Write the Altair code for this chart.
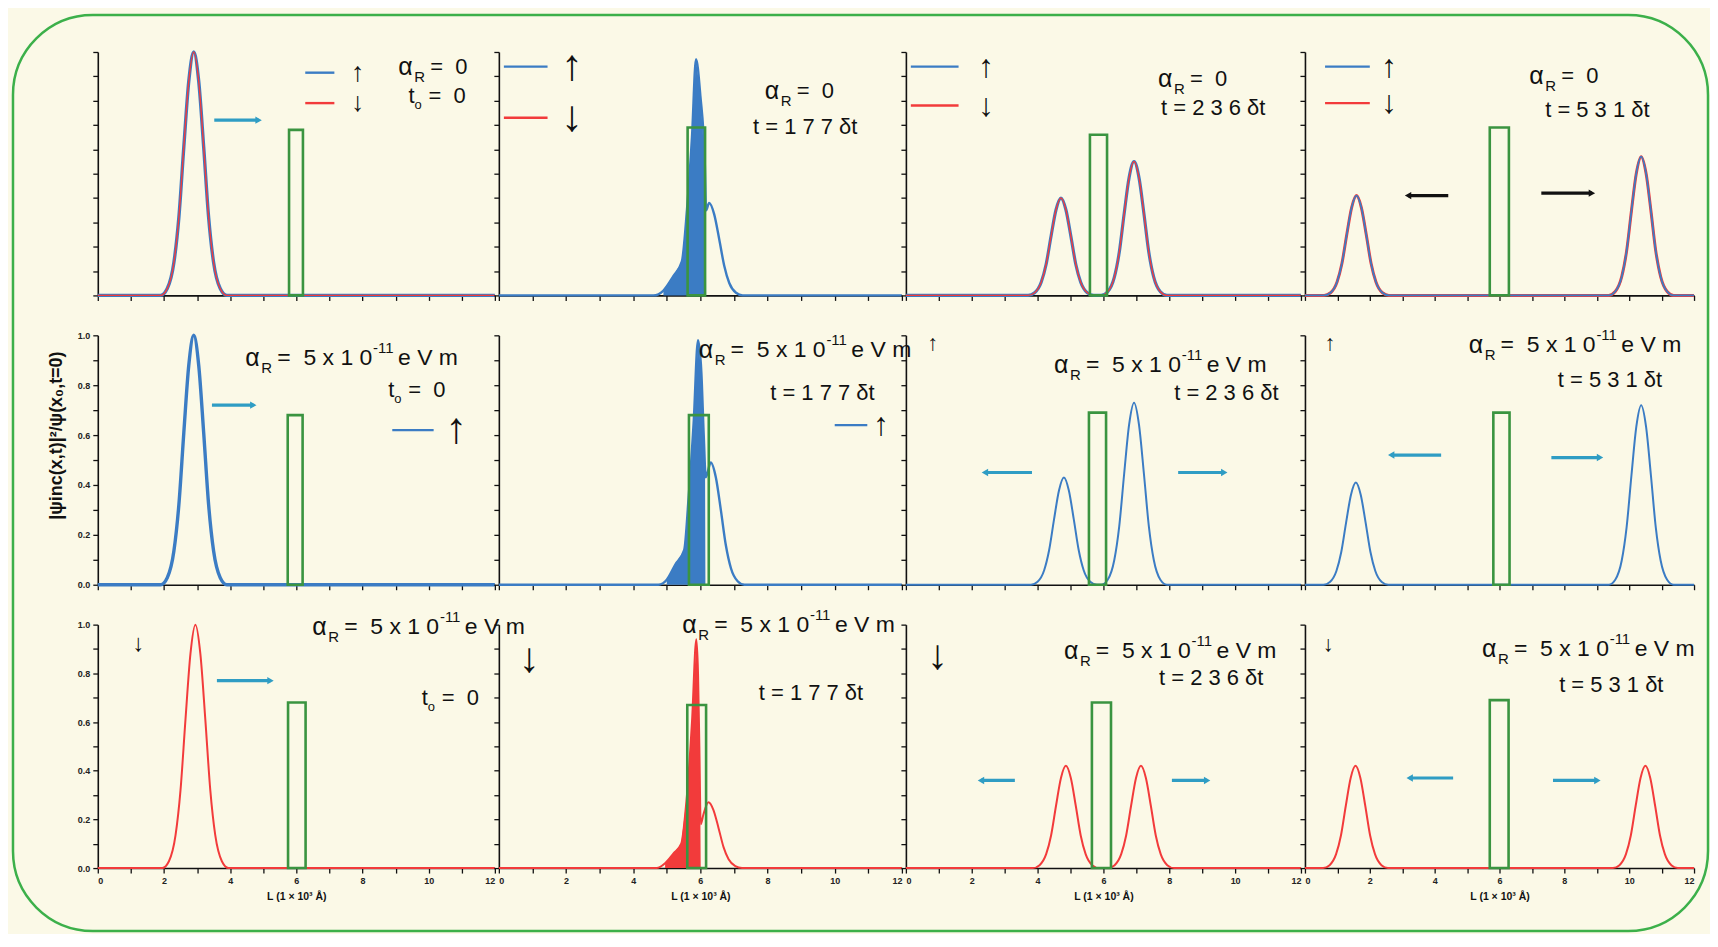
import altair as alt
import pandas as pd

FONT = "Liberation Sans"
NB = "\u00a0"

# ======================= DATA =======================
PANEL_IDS = ["A1", "A2", "A3", "A4", "B1", "B2", "B3", "B4", "C1", "C2", "C3", "C4"]
X_TICKS = list(range(0, 13))
Y_TICKS = [0.0, 0.1, 0.2, 0.3, 0.4, 0.5, 0.6, 0.7, 0.8, 0.9, 1.0]

# probability density curves (x in 10^3 Å, y normalised)
A1_X = [0, 1.9, 2.1, 2.3, 2.45, 2.6, 2.75, 2.9, 3.05, 3.2, 3.35, 3.5, 3.7, 3.9, 12]
A1_Y = [0, 0, 0.028, 0.135, 0.32, 0.61, 0.88, 1.0, 0.88, 0.61, 0.32, 0.135, 0.028, 0, 0]

A2_X = [0, 4.6, 4.9, 5.2, 5.45, 5.6, 5.75, 5.87, 6.0, 6.13, 6.17, 6.26, 6.41, 6.56, 6.71, 6.86, 7.06, 7.26, 12]
A2_Y = [0, 0, 0.02, 0.08, 0.14, 0.35, 0.65, 0.97, 0.82, 0.55, 0.35, 0.38, 0.334, 0.232, 0.122, 0.051, 0.011, 0, 0]
A2_FILL_X = [4.9, 5.2, 5.45, 5.6, 5.75, 5.87, 6.0, 6.13, 6.16, 6.17]
A2_FILL_Y = [0.02, 0.08, 0.14, 0.35, 0.65, 0.97, 0.82, 0.55, 0.36, 0]

A3_X = [0, 3.71, 3.91, 4.11, 4.26, 4.41, 4.56, 4.71, 4.86, 5.01, 5.16, 5.31, 5.51, 5.71,
        5.93, 6.13, 6.33, 6.48, 6.63, 6.78, 6.93, 7.08, 7.23, 7.38, 7.53, 7.73, 7.93, 12]
A3_Y = [0, 0, 0.011, 0.054, 0.128, 0.244, 0.352, 0.40, 0.352, 0.244, 0.128, 0.054, 0.011, 0,
        0, 0.015, 0.074, 0.176, 0.336, 0.484, 0.55, 0.484, 0.336, 0.176, 0.074, 0.015, 0, 0]

A4_X = [0, 0.59, 0.79, 0.99, 1.14, 1.29, 1.44, 1.59, 1.74, 1.89, 2.04, 2.19, 2.39, 2.59,
        9.37, 9.57, 9.77, 9.92, 10.07, 10.22, 10.37, 10.52, 10.67, 10.82, 10.97, 11.17, 11.37, 12]
A4_Y = [0, 0, 0.011, 0.055, 0.131, 0.25, 0.361, 0.41, 0.361, 0.25, 0.131, 0.055, 0.011, 0,
        0, 0.016, 0.077, 0.182, 0.348, 0.502, 0.57, 0.502, 0.348, 0.182, 0.077, 0.016, 0, 0]

B1_X = [0, 1.9, 2.1, 2.3, 2.45, 2.6, 2.75, 2.9, 3.05, 3.2, 3.35, 3.5, 3.7, 3.9, 12]
B1_Y = [0, 0, 0.028, 0.135, 0.32, 0.61, 0.88, 1.0, 0.88, 0.61, 0.32, 0.135, 0.028, 0, 0]

B2_X = [0, 4.75, 5.0, 5.25, 5.52, 5.65, 5.8, 5.93, 6.03, 6.1, 6.16, 6.31, 6.46, 6.61, 6.76, 6.91, 7.11, 7.31, 12]
B2_Y = [0, 0, 0.02, 0.08, 0.14, 0.35, 0.65, 0.98, 0.85, 0.6, 0.431, 0.49, 0.431, 0.299, 0.157, 0.066, 0.014, 0, 0]
B2_FILL_X = [5.0, 5.25, 5.52, 5.65, 5.8, 5.93, 6.03, 6.1, 6.14, 6.15]
B2_FILL_Y = [0.02, 0.08, 0.14, 0.35, 0.65, 0.98, 0.85, 0.6, 0.43, 0]

B3_X = [0, 3.8, 4.0, 4.2, 4.35, 4.5, 4.65, 4.8, 4.95, 5.1, 5.25, 5.4, 5.6, 5.8,
        5.93, 6.13, 6.33, 6.48, 6.63, 6.78, 6.93, 7.08, 7.23, 7.38, 7.53, 7.73, 7.93, 12]
B3_Y = [0, 0, 0.012, 0.058, 0.138, 0.262, 0.378, 0.43, 0.378, 0.262, 0.138, 0.058, 0.012, 0,
        0, 0.02, 0.099, 0.234, 0.445, 0.642, 0.73, 0.642, 0.445, 0.234, 0.099, 0.02, 0, 0]

B4_X = [0, 0.57, 0.77, 0.97, 1.12, 1.27, 1.42, 1.57, 1.72, 1.87, 2.02, 2.17, 2.37, 2.57,
        9.37, 9.57, 9.77, 9.92, 10.07, 10.22, 10.37, 10.52, 10.67, 10.82, 10.97, 11.17, 11.37, 12]
B4_Y = [0, 0, 0.011, 0.055, 0.131, 0.25, 0.361, 0.41, 0.361, 0.25, 0.131, 0.055, 0.011, 0,
        0, 0.02, 0.097, 0.23, 0.439, 0.634, 0.72, 0.634, 0.439, 0.23, 0.097, 0.02, 0, 0]

C1_X = [0, 1.95, 2.15, 2.35, 2.5, 2.65, 2.8, 2.95, 3.1, 3.25, 3.4, 3.55, 3.75, 3.95, 12]
C1_Y = [0, 0, 0.028, 0.135, 0.32, 0.61, 0.88, 1.0, 0.88, 0.61, 0.32, 0.135, 0.028, 0, 0]

C2_X = [0, 4.7, 4.95, 5.2, 5.43, 5.6, 5.75, 5.88, 5.93, 5.97, 6.01, 6.09, 6.24, 6.39, 6.54, 6.69, 6.84, 7.04, 7.24, 12]
C2_Y = [0, 0, 0.02, 0.06, 0.1, 0.3, 0.6, 0.94, 0.8, 0.5, 0.18, 0.22, 0.27, 0.238, 0.165, 0.086, 0.036, 0.008, 0, 0]
C2_FILL_X = [4.95, 5.2, 5.43, 5.6, 5.75, 5.88, 5.93, 5.97, 6.0, 6.01]
C2_FILL_Y = [0.02, 0.06, 0.1, 0.3, 0.6, 0.94, 0.8, 0.5, 0.2, 0]

C3_X = [0, 3.86, 4.06, 4.26, 4.41, 4.56, 4.71, 4.86, 5.01, 5.16, 5.31, 5.46, 5.66, 5.86,
        6.14, 6.34, 6.54, 6.69, 6.84, 6.99, 7.14, 7.29, 7.44, 7.59, 7.74, 7.94, 8.14, 12]
C3_Y = [0, 0, 0.012, 0.057, 0.134, 0.256, 0.37, 0.42, 0.37, 0.256, 0.134, 0.057, 0.012, 0,
        0, 0.012, 0.057, 0.134, 0.256, 0.37, 0.42, 0.37, 0.256, 0.134, 0.057, 0.012, 0, 0]

C4_X = [0, 0.56, 0.76, 0.96, 1.11, 1.26, 1.41, 1.56, 1.71, 1.86, 2.01, 2.16, 2.36, 2.56,
        9.5, 9.7, 9.9, 10.05, 10.2, 10.35, 10.5, 10.65, 10.8, 10.95, 11.1, 11.3, 11.5, 12]
C4_Y = [0, 0, 0.012, 0.057, 0.134, 0.256, 0.37, 0.42, 0.37, 0.256, 0.134, 0.057, 0.012, 0,
        0, 0.012, 0.057, 0.134, 0.256, 0.37, 0.42, 0.37, 0.256, 0.134, 0.057, 0.012, 0, 0]

# barrier (green box) per panel
BARRIER_X1 = [5.78, 5.62, 5.59, 5.70, 5.74, 5.66, 5.56, 5.81, 5.75, 5.61, 5.65, 5.70]
BARRIER_X2 = [6.20, 6.14, 6.11, 6.29, 6.19, 6.25, 6.08, 6.31, 6.28, 6.17, 6.23, 6.28]
BARRIER_TOP = [0.68, 0.69, 0.66, 0.69, 0.68, 0.68, 0.69, 0.69, 0.68, 0.67, 0.68, 0.69]

# propagation arrows
ARROW_PANEL = ["A1", "B1", "C1", "A4", "A4", "B3", "B3", "B4", "B4", "C3", "C3", "C4", "C4"]
ARROW_X1 = [3.52, 3.45, 3.60, 4.42, 7.29, 3.83, 8.27, 4.20, 7.60, 3.31, 8.08, 4.57, 7.65]
ARROW_X2 = [4.86, 4.70, 5.22, 3.18, 8.85, 2.40, 9.67, 2.66, 9.10, 2.28, 9.15, 3.23, 9.02]
ARROW_Y = [0.72, 0.72, 0.77, 0.41, 0.42, 0.45, 0.45, 0.52, 0.51, 0.36, 0.36, 0.37, 0.36]
ARROW_KIND = ["cyan", "cyan", "cyan", "black", "black", "cyan", "cyan", "cyan", "cyan",
              "cyan", "cyan", "cyan", "cyan"]

# legend line samples
LEG_PANEL = ["A1", "A1", "A2", "A2", "A3", "A3", "A4", "A4", "B1", "B2"]
LEG_SPIN = ["up", "down", "up", "down", "up", "down", "up", "down", "up", "up"]
LEG_X1 = [6.27, 6.27, 0.15, 0.15, 0.15, 0.15, 0.62, 0.62, 8.90, 10.00]
LEG_X2 = [7.15, 7.15, 1.45, 1.45, 1.60, 1.60, 2.00, 2.00, 10.15, 10.97]
LEG_Y = [0.915, 0.79, 0.94, 0.73, 0.94, 0.78, 0.94, 0.79, 0.62, 0.64]

# spin arrows (text)
GLYPH_PANEL = ["A1", "A1", "A2", "A2", "A3", "A3", "A4", "A4", "B1", "B2", "B3", "B4", "C1", "C2", "C3", "C4"]
GLYPH_TEXT = ["↑", "↓", "↑", "↓", "↑", "↓", "↑", "↓", "↑", "↑", "↑", "↑", "↓", "↓", "↓", "↓"]
GLYPH_X = [7.65, 7.65, 1.85, 1.85, 2.2, 2.2, 2.35, 2.35, 10.5, 11.15, 0.65, 0.6, 1.05, 0.6, 0.65, 0.55]
GLYPH_Y = [0.915, 0.79, 0.94, 0.73, 0.94, 0.78, 0.94, 0.79, 0.62, 0.64, 0.97, 0.97, 0.92, 0.86, 0.87, 0.92]

# Rashba coupling labels and time labels
ALPHA_X = [9.08, 7.92, 7.66, 6.92, 4.46, 5.95, 4.50, 5.05, 6.48, 5.46, 4.80, 5.46]
ALPHA_Y = [0.94, 0.84, 0.89, 0.90, 0.91, 0.94, 0.88, 0.96, 0.99, 1.00, 0.89, 0.90]
ALPHA_VALUE = ["0", "0", "0", "0", "5e-11", "5e-11", "5e-11", "5e-11", "5e-11", "5e-11", "5e-11", "5e-11"]
TIME_X = [9.39, 7.57, 7.75, 7.41, 8.78, 8.08, 8.15, 7.80, 9.79, 7.74, 7.69, 7.84]
TIME_Y = [0.82, 0.69, 0.77, 0.76, 0.78, 0.77, 0.77, 0.82, 0.70, 0.72, 0.78, 0.75]
TIME_STEPS = [0, 177, 236, 531, 0, 177, 236, 531, 0, 177, 236, 531]

X_TITLE = "L  (1 × 10³ Å)"
Y_TITLE = "|ψinc(x,t)|²/ψ(x₀,t=0)"

# ======================= STYLE =======================
BG = "#fbf9e7"
BORDER = "#3cb04a"
GREEN = "#3a9440"
SPIN_COLOR = {"up": "#3b7cc4", "down": "#f23b3b"}
ARROW_COLOR = {"cyan": "#2f9dc4", "black": "#111111"}
COL_W = [398, 404, 396, 390]
ROW_H = [244, 250, 244]

CURVES = {"A1": (A1_X, A1_Y), "A2": (A2_X, A2_Y), "A3": (A3_X, A3_Y), "A4": (A4_X, A4_Y),
          "B1": (B1_X, B1_Y), "B2": (B2_X, B2_Y), "B3": (B3_X, B3_Y), "B4": (B4_X, B4_Y),
          "C1": (C1_X, C1_Y), "C2": (C2_X, C2_Y), "C3": (C3_X, C3_Y), "C4": (C4_X, C4_Y)}
FILLS = {"A2": (A2_FILL_X, A2_FILL_Y), "B2": (B2_FILL_X, B2_FILL_Y), "C2": (C2_FILL_X, C2_FILL_Y)}
CURVE_LAYERS = {
    "A1": [("up", 3.4), ("down", 1.4)], "A2": [("up", 2.4)],
    "A3": [("up", 3.2), ("down", 1.4)], "A4": [("down", 3.0), ("up", 1.8)],
    "B1": [("up", 3.4)], "B2": [("up", 2.4)], "B3": [("up", 2.0)], "B4": [("up", 2.0)],
    "C1": [("down", 2.0)], "C2": [("down", 2.0)], "C3": [("down", 2.0)], "C4": [("down", 2.0)],
}
GLYPH_FONT_SIZE = {"A1": 27, "A2": 44, "A3": 32, "A4": 32, "B1": 44, "B2": 32, "B3": 22,
                   "B4": 22, "C1": 24, "C2": 42, "C3": 42, "C4": 22}
ALPHA_PIECES = {
    "0": [("α", 0, 0, 25), ("R", 16, 10, 15), ("=" + NB + NB + "0", 32, 0, 22)],
    "5e-11": [("α", 0, 0, 25), ("R", 16, 10, 15), ("=" + NB + NB + "5 x 1 0", 32, 0, 23),
              ("-11", 128, -10, 15), ("e V m", 153, 0, 23)],
}
T0_PIECES = [("t", 0, 0, 22), ("o", 6, 9, 13), ("=" + NB + NB + "0", 20, 0, 22)]

# ======================= TABLES =======================
barrier_df = pd.DataFrame({"panel": PANEL_IDS, "x": BARRIER_X1, "x2": BARRIER_X2,
                           "y": [0.0] * len(PANEL_IDS), "y2": BARRIER_TOP})
arrow_df = pd.DataFrame({"panel": ARROW_PANEL, "x": ARROW_X1, "x2": ARROW_X2, "y": ARROW_Y,
                         "color": [ARROW_COLOR[k] for k in ARROW_KIND]})
head_df = pd.DataFrame({"panel": ARROW_PANEL, "x": ARROW_X2, "y": ARROW_Y,
                        "color": [ARROW_COLOR[k] for k in ARROW_KIND],
                        "shape": ["triangle-right" if b > a else "triangle-left"
                                  for a, b in zip(ARROW_X1, ARROW_X2)]})
leg_df = pd.DataFrame({"panel": LEG_PANEL, "x": LEG_X1, "x2": LEG_X2, "y": LEG_Y,
                       "color": [SPIN_COLOR[s] for s in LEG_SPIN]})
glyph_df = pd.DataFrame({"panel": GLYPH_PANEL, "x": GLYPH_X, "y": GLYPH_Y, "t": GLYPH_TEXT,
                         "fs": [GLYPH_FONT_SIZE[p] for p in GLYPH_PANEL]})
alpha_df = pd.DataFrame({"panel": PANEL_IDS, "x": ALPHA_X, "y": ALPHA_Y, "v": ALPHA_VALUE})
time_df = pd.DataFrame({"panel": PANEL_IDS, "x": TIME_X, "y": TIME_Y, "n": TIME_STEPS})


def make_panel(pid, row, col):
    xs = alt.Scale(domain=[0, 12], nice=False, zero=False)
    ys = alt.Scale(domain=[0, 1], nice=False, zero=False)
    bottom = row == 2
    x_axis = alt.Axis(values=X_TICKS, labels=bottom,
                      labelExpr="datum.value % 2 == 0 ? datum.label : ''",
                      title=X_TITLE if bottom else "", titleFontSize=10.5,
                      titleFontWeight="bold", titlePadding=7, labelPadding=3)
    y_axis = alt.Axis(values=Y_TICKS, labels=(col == 0 and row > 0),
                      labelExpr="round(datum.value*10) % 2 == 0 ? format(datum.value, '.1f') : ''",
                      title=Y_TITLE if pid == "B1" else "", titleFontSize=18,
                      titleFontWeight="bold", titlePadding=12, titleY=100, labelPadding=3)

    def XY(ch):
        return ch.encode(x=alt.X("x:Q", scale=xs, axis=x_axis),
                         y=alt.Y("y:Q", scale=ys, axis=y_axis))

    layers = []
    cx, cy = CURVES[pid]
    cdf = pd.DataFrame({"x": cx, "y": cy})
    first_spin = CURVE_LAYERS[pid][0][0]
    for spin, sw in CURVE_LAYERS[pid]:
        layers.append(XY(alt.Chart(cdf).mark_line(color=SPIN_COLOR[spin], strokeWidth=sw,
                                                  interpolate="monotone")))
    if pid in FILLS:
        fx, fy = FILLS[pid]
        layers.append(XY(alt.Chart(pd.DataFrame({"x": fx, "y": fy})).mark_area(
            color=SPIN_COLOR[first_spin], opacity=1, interpolate="linear")))

    bdf = barrier_df[barrier_df.panel == pid]
    layers.append(XY(alt.Chart(bdf).mark_rect(fillOpacity=0, stroke=GREEN, strokeWidth=2.6))
                  .encode(x2="x2:Q", y2="y2:Q"))

    adf = arrow_df[arrow_df.panel == pid]
    if len(adf):
        layers.append(XY(alt.Chart(adf).mark_rule(strokeWidth=3.2)).encode(
            x2="x2:Q", color=alt.Color("color:N", scale=None)))
        hdf = head_df[head_df.panel == pid]
        layers.append(XY(alt.Chart(hdf).mark_point(filled=True, size=55, opacity=1)).encode(
            shape=alt.Shape("shape:N", scale=None), color=alt.Color("color:N", scale=None)))

    ldf = leg_df[leg_df.panel == pid]
    if len(ldf):
        layers.append(XY(alt.Chart(ldf).mark_rule(strokeWidth=2.4)).encode(
            x2="x2:Q", color=alt.Color("color:N", scale=None)))

    gdf = glyph_df[glyph_df.panel == pid]
    if len(gdf):
        layers.append(XY(alt.Chart(gdf).mark_text(align="left", baseline="middle",
                                                  font=FONT, color="#111")).encode(
            text="t:N", size=alt.Size("fs:Q", scale=None)))

    al = alpha_df[alpha_df.panel == pid]
    for (s, dx, dy, fs) in ALPHA_PIECES[al.v.iloc[0]]:
        layers.append(XY(alt.Chart(al).mark_text(align="left", baseline="middle", font=FONT,
                                                 fontSize=fs, dx=dx, dy=dy, color="#111"))
                      .encode(text=alt.value(s)))

    tl = time_df[time_df.panel == pid]
    n = int(tl.n.iloc[0])
    if n == 0:
        for (s, dx, dy, fs) in T0_PIECES:
            layers.append(XY(alt.Chart(tl).mark_text(align="left", baseline="middle", font=FONT,
                                                     fontSize=fs, dx=dx, dy=dy, color="#111"))
                          .encode(text=alt.value(s)))
    else:
        label = "t = " + " ".join(str(n)) + "  δt"
        layers.append(XY(alt.Chart(tl).mark_text(align="left", baseline="middle", font=FONT,
                                                 fontSize=22, color="#111"))
                      .encode(text=alt.value(label)))

    if pid == "A1":
        layers.append(alt.Chart(pd.DataFrame({"k": [0]})).mark_rect(
            fillOpacity=0, stroke=BORDER, strokeWidth=2.5, cornerRadius=80).encode(
            x=alt.value(-85), x2=alt.value(1614), y=alt.value(-37), y2=alt.value(881)))

    return alt.layer(*layers).properties(width=COL_W[col], height=ROW_H[row])


panels = []
for r, letter in enumerate("ABC"):
    for c in range(4):
        panels.append(make_panel(f"{letter}{c + 1}", r, c))

chart = alt.concat(*panels, columns=4, spacing={"row": 40, "column": 4},
                   bounds="flush", align="each")
chart = chart.properties(
    padding={"left": 3, "top": 4, "right": 0, "bottom": 0}
).configure(background=BG, font=FONT).configure_view(stroke="transparent").configure_axis(
    grid=False, domainColor="#111", domainWidth=1.6, tickColor="#111", tickWidth=1.3, tickSize=5,
    labelFont=FONT, labelFontSize=9, labelFontWeight="bold", labelColor="#222",
    titleFont=FONT, titleColor="#111")

chart.save("out.html", embed_options={"renderer": "svg", "actions": False})
